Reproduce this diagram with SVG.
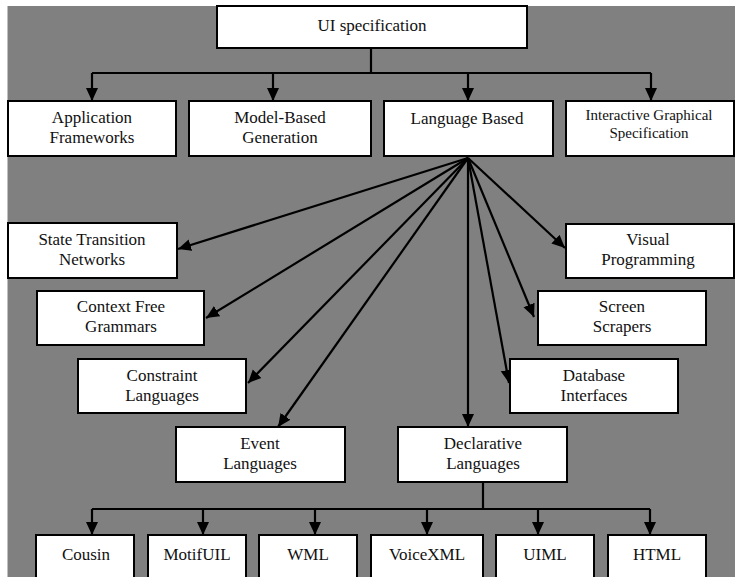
<svg xmlns="http://www.w3.org/2000/svg" width="735" height="577" viewBox="0 0 735 577">
  <style>
    .bg { fill: #808080; }
    .box { fill: #ffffff; stroke: #000000; stroke-width: 2; }
    .wire { fill: none; stroke: #000000; stroke-width: 2.2; }
    .arrow { fill: none; stroke: #000000; stroke-width: 2.2; marker-end: url(#head); }
    text { font-family: "Liberation Serif", "Times New Roman", serif !important; font-size: 17px; fill: #111111; text-anchor: middle; }
    text.sm { font-size: 15px; }
  </style>
  <defs>
    <marker id="head" markerUnits="userSpaceOnUse" markerWidth="14" markerHeight="14" viewBox="0 0 14 14" refX="13" refY="7" orient="auto">
      <path d="M0,1 L13,7 L0,13 Z" fill="#000000"/>
    </marker>
  </defs>

  <rect x="0" y="0" width="735" height="577" fill="#ffffff"/>
  <rect class="bg" x="7.5" y="6" width="727.5" height="571"/>

  <g id="connectors">
    <!-- top level tree -->
    <path class="wire" d="M371,48 V73 M92,73 H651"/>
    <path class="arrow" d="M92,73 V101"/>
    <path class="arrow" d="M273,73 V101"/>
    <path class="arrow" d="M468,73 V101"/>
    <path class="arrow" d="M651,73 V101"/>
    <!-- fan out from Language Based -->
    <path class="arrow" d="M468,158 L178,249"/>
    <path class="arrow" d="M468,158 L206,318"/>
    <path class="arrow" d="M468,158 L248,383"/>
    <path class="arrow" d="M468,158 L278,427"/>
    <path class="arrow" d="M468,158 L468,427"/>
    <path class="arrow" d="M468,158 L509,383"/>
    <path class="arrow" d="M468,158 L534,317"/>
    <path class="arrow" d="M468,158 L565,248"/>
    <!-- declarative languages tree -->
    <path class="wire" d="M483,482 V509 M92,509 H650"/>
    <path class="arrow" d="M92,509 V535"/>
    <path class="arrow" d="M203,509 V535"/>
    <path class="arrow" d="M315,509 V535"/>
    <path class="arrow" d="M427,509 V535"/>
    <path class="arrow" d="M538,509 V535"/>
    <path class="arrow" d="M650,509 V535"/>
  </g>

  <g id="ui-specification">
    <rect class="box" x="217" y="6" width="310" height="42"/>
    <text x="372" y="31">UI specification</text>
  </g>

  <g id="application-frameworks">
    <rect class="box" x="8" y="101" width="168" height="55"/>
    <text x="92" y="123">Application</text>
    <text x="92" y="143">Frameworks</text>
  </g>
  <g id="model-based-generation">
    <rect class="box" x="189" y="101" width="182" height="55"/>
    <text x="280" y="123">Model-Based</text>
    <text x="280" y="143">Generation</text>
  </g>
  <g id="language-based">
    <rect class="box" x="384" y="101" width="169" height="55"/>
    <text x="467" y="124">Language Based</text>
  </g>
  <g id="interactive-graphical">
    <rect class="box" x="566" y="101" width="168" height="55"/>
    <text class="sm" x="649" y="120">Interactive Graphical</text>
    <text class="sm" x="649" y="138">Specification</text>
  </g>

  <g id="state-transition-networks">
    <rect class="box" x="8" y="223" width="169" height="55"/>
    <text x="92" y="245">State Transition</text>
    <text x="92" y="265">Networks</text>
  </g>
  <g id="visual-programming">
    <rect class="box" x="566" y="224" width="168" height="54"/>
    <text x="648" y="245">Visual</text>
    <text x="648" y="265">Programming</text>
  </g>
  <g id="context-free-grammars">
    <rect class="box" x="37" y="291" width="167" height="54"/>
    <text x="121" y="312">Context Free</text>
    <text x="121" y="332">Grammars</text>
  </g>
  <g id="screen-scrapers">
    <rect class="box" x="538" y="291" width="168" height="54"/>
    <text x="622" y="312">Screen</text>
    <text x="622" y="332">Scrapers</text>
  </g>
  <g id="constraint-languages">
    <rect class="box" x="78" y="359" width="168" height="54"/>
    <text x="162" y="381">Constraint</text>
    <text x="162" y="401">Languages</text>
  </g>
  <g id="database-interfaces">
    <rect class="box" x="510" y="359" width="168" height="54"/>
    <text x="594" y="381">Database</text>
    <text x="594" y="401">Interfaces</text>
  </g>
  <g id="event-languages">
    <rect class="box" x="176" y="427" width="169" height="55"/>
    <text x="260" y="449">Event</text>
    <text x="260" y="469">Languages</text>
  </g>
  <g id="declarative-languages">
    <rect class="box" x="398" y="427" width="169" height="55"/>
    <text x="483" y="449">Declarative</text>
    <text x="483" y="469">Languages</text>
  </g>

  <g id="cousin">
    <rect class="box" x="36" y="535" width="98" height="60"/>
    <text x="86" y="560">Cousin</text>
  </g>
  <g id="motifuil">
    <rect class="box" x="148" y="535" width="98" height="60"/>
    <text x="197" y="560">MotifUIL</text>
  </g>
  <g id="wml">
    <rect class="box" x="259" y="535" width="98" height="60"/>
    <text x="308" y="560">WML</text>
  </g>
  <g id="voicexml">
    <rect class="box" x="371" y="535" width="112" height="60"/>
    <text x="427" y="560">VoiceXML</text>
  </g>
  <g id="uiml">
    <rect class="box" x="496" y="535" width="98" height="60"/>
    <text x="545" y="560">UIML</text>
  </g>
  <g id="html">
    <rect class="box" x="608" y="535" width="98" height="60"/>
    <text x="657" y="560">HTML</text>
  </g>
</svg>
